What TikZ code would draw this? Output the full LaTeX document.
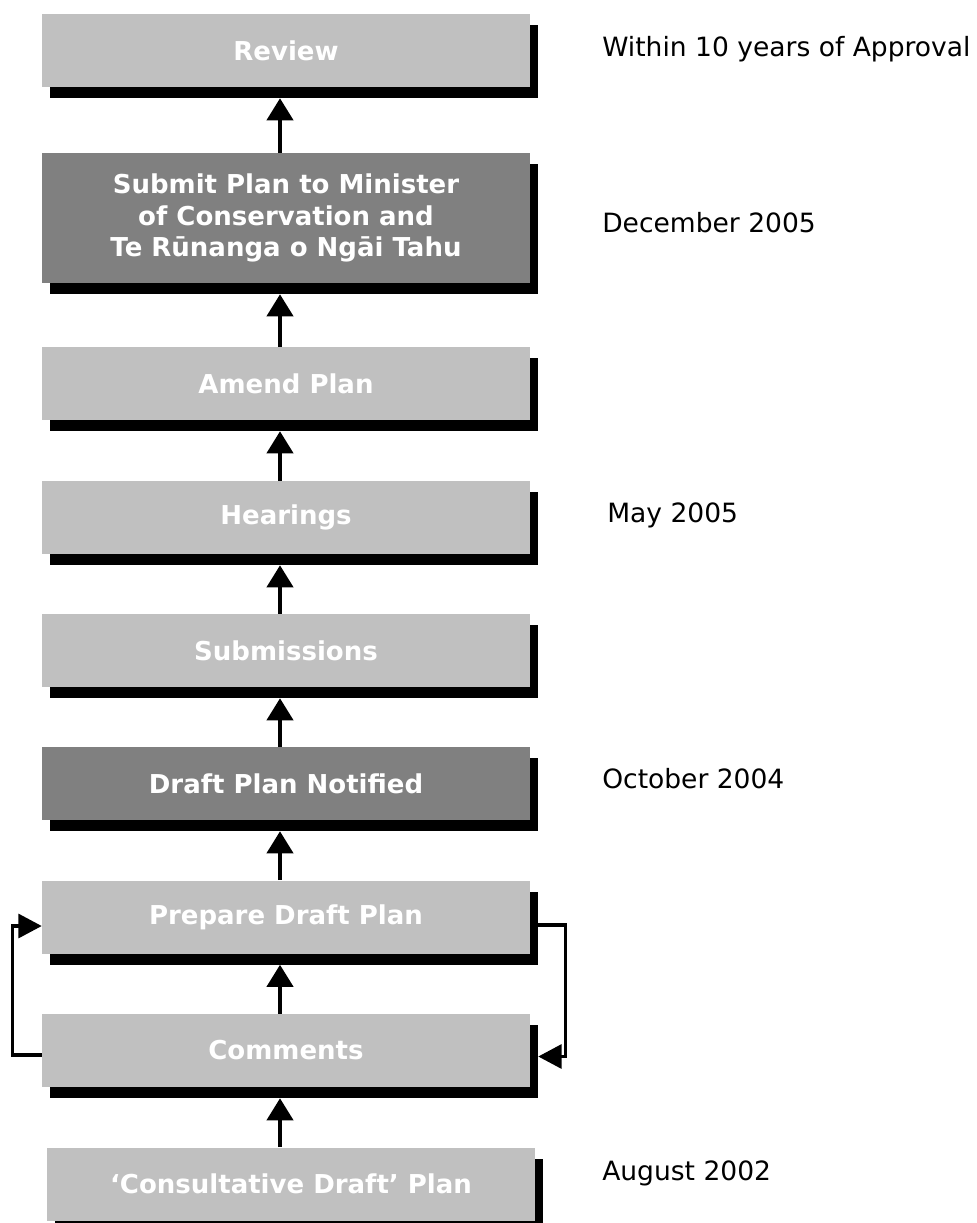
\documentclass[tikz,border=0pt]{standalone}
\usepackage{fontspec}
\setmainfont{DejaVu Sans}
\usetikzlibrary{arrows.meta}
\definecolor{lightbox}{HTML}{C0C0C0}
\definecolor{darkbox}{HTML}{808080}
\tikzset{
  stepbox/.style={rectangle, fill=#1, minimum width=366pt, minimum height=54.75pt,
    inner sep=0pt, text=white, align=center,
    font=\bfseries\fontsize{19.5}{23.6}\selectfont},
  shadowbox/.style={rectangle, fill=black, minimum width=366pt, minimum height=54.75pt, inner sep=0pt},
  datelabel/.style={anchor=base west, inner sep=0pt, font=\fontsize{19.9}{24}\selectfont},
  uparrow/.style={-{Triangle[width=19.5pt,length=16.5pt]}, line width=3pt},
  looparrow/.style={-{Triangle[width=18pt,length=17.5pt]}, line width=2.3pt},
}
\begin{document}
\begin{tikzpicture}[x=0.75pt,y=-0.75pt]
\useasboundingbox (0,0) rectangle (976,1223);
\clip (0,0) rectangle (976,1223);
% shadows
\node[shadowbox] (shReview) at (294,61.5) {};
\node[shadowbox, minimum height=97.5pt] (shSubmit) at (294,229) {};
\node[shadowbox] (shAmend) at (294,394.5) {};
\node[shadowbox] (shHearings) at (294,528.5) {};
\node[shadowbox] (shSubmissions) at (294,661.5) {};
\node[shadowbox] (shDraft) at (294,794.5) {};
\node[shadowbox] (shPrepare) at (294,928) {};
\node[shadowbox] (shComments) at (294,1061.5) {};
\node[shadowbox] (shConsult) at (299,1195) {};
% boxes
\node[stepbox=lightbox] (review) at (286,50.5) {Review};
\node[stepbox=darkbox, minimum height=97.5pt] (submit) at (286,218) {Submit Plan to Minister\\of Conservation and\\Te Rūnanga o Ngāi Tahu};
\node[stepbox=lightbox] (amend) at (286,383.5) {Amend Plan};
\node[stepbox=lightbox] (hearings) at (286,517.5) {Hearings};
\node[stepbox=lightbox] (submissions) at (286,650.5) {Submissions};
\node[stepbox=darkbox] (draft) at (286,783.5) {Draft Plan Notified};
\node[stepbox=lightbox] (prepare) at (286,917) {Prepare Draft Plan};
\node[stepbox=lightbox] (comments) at (286,1050.5) {Comments};
\node[stepbox=lightbox] (consult) at (291,1184) {‘Consultative Draft’ Plan};
% vertical arrows
\draw[uparrow] ([xshift=-4.5pt]submit.north) -- ([xshift=-10.5pt]shReview.south);
\draw[uparrow] ([xshift=-4.5pt]amend.north) -- ([xshift=-10.5pt]shSubmit.south);
\draw[uparrow] ([xshift=-4.5pt]hearings.north) -- ([xshift=-10.5pt]shAmend.south);
\draw[uparrow] ([xshift=-4.5pt]submissions.north) -- ([xshift=-10.5pt]shHearings.south);
\draw[uparrow] ([xshift=-4.5pt]draft.north) -- ([xshift=-10.5pt]shSubmissions.south);
\draw[uparrow] ([xshift=-4.5pt]prepare.north) -- ([xshift=-10.5pt]shDraft.south);
\draw[uparrow] ([xshift=-4.5pt]comments.north) -- ([xshift=-10.5pt]shPrepare.south);
\draw[uparrow] ([xshift=-8.25pt]consult.north) -- ([xshift=-10.5pt]shComments.south);
% loop arrows
\draw[looparrow] ([yshift=-3.375pt]comments.west) -- ++(-29,0) |- ([yshift=-6.75pt]prepare.west);
\draw[looparrow] ([yshift=2.25pt]shPrepare.east) -- ++(27,0) |- ([yshift=3.75pt]shComments.east);
% dates
\node[datelabel] (d1) at (602,57) {Within 10 years of Approval};
\node[datelabel] (d2) at (602,233) {December 2005};
\node[datelabel] (d3) at (607,522) {May 2005};
\node[datelabel] (d4) at (602,788) {October 2004};
\node[datelabel] (d5) at (602,1180) {August 2002};
\end{tikzpicture}
\end{document}
